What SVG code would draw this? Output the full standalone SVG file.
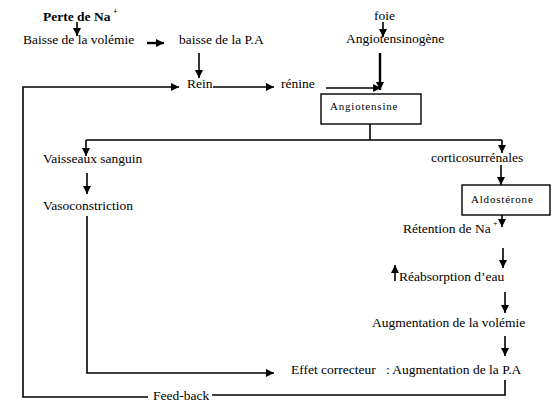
<svg xmlns="http://www.w3.org/2000/svg" width="559" height="413" viewBox="0 0 559 413">
<style>
text{font-family:"Liberation Serif","Times New Roman",serif;font-size:13.5px;fill:#000}
.b{font-weight:bold}
.s{font-size:11px;letter-spacing:0.8px}
.sup{font-size:8px}
.c{fill:none;stroke:#000;stroke-width:1.6}
.t{stroke-width:2.4}
.box{fill:#fff;stroke:#000;stroke-width:1.4}
</style>
<defs>
<marker id="a" markerUnits="userSpaceOnUse" markerWidth="10" markerHeight="10" refX="8" refY="4" orient="auto">
<path d="M0,0 L8,4 L0,8 Z" fill="#000"/>
</marker>
</defs>
<rect width="559" height="413" fill="#fff"/>
<g id="connectors">
<path class="c" d="M77,22 V36" marker-end="url(#a)"/>
<path class="c t" d="M147,43 H164" marker-end="url(#a)"/>
<path class="c" d="M199,53 V78" marker-end="url(#a)"/>
<path class="c" d="M148,397 H23 V87 H179" marker-end="url(#a)"/>
<path class="c" d="M505,380 V395 H212"/>
<path class="c" d="M213,87 H274" marker-end="url(#a)"/>
<path class="c" d="M383,22 V37" marker-end="url(#a)"/>
<path class="c t" d="M380,53 V90" marker-end="url(#a)"/>
<path class="c" d="M326,88 H381" marker-end="url(#a)"/>
<path class="c" d="M370,124 V140 M86,140 H502"/>
<path class="c" d="M86,140 V156" marker-end="url(#a)"/>
<path class="c" d="M502,140 V153" marker-end="url(#a)"/>
<path class="c" d="M501,165 V185" marker-end="url(#a)"/>
<path class="c" d="M502,215 V227" marker-end="url(#a)"/>
<path class="c" d="M503,248 V268" marker-end="url(#a)"/>
<path class="c" d="M395,281 V265" marker-end="url(#a)"/>
<path class="c" d="M505,292 V313" marker-end="url(#a)"/>
<path class="c" d="M505,336 V356" marker-end="url(#a)"/>
<path class="c" d="M87,173 V194" marker-end="url(#a)"/>
<path class="c" d="M87,216 V373 H274" marker-end="url(#a)"/>
</g>
<g id="perte"><text x="43" y="21" class="b">Perte de Na</text><text x="113" y="14" class="sup b">+</text></g>
<g id="baisse-volemie"><text x="23" y="44">Baisse de la volémie</text></g>
<g id="baisse-pa"><text x="179" y="44">baisse de la P.A</text></g>
<g id="foie"><text x="374" y="20">foie</text></g>
<g id="angiotensinogene"><text x="346" y="43">Angiotensinogène</text></g>
<g id="rein"><text x="187" y="88">Rein</text></g>
<g id="renine"><text x="281" y="88">rénine</text></g>
<g id="angiotensine"><rect class="box" x="321" y="94" width="100" height="30"/><text x="330" y="110" class="s">Angiotensine</text></g>
<g id="vaisseaux"><text x="43" y="163">Vaisseaux sanguin</text></g>
<g id="cortico"><text x="431" y="162">corticosurrénales</text></g>
<g id="aldosterone"><rect class="box" x="462" y="185" width="88" height="30"/><text x="471" y="203" class="s">Aldostérone</text></g>
<g id="vasoconstriction"><text x="43" y="210">Vasoconstriction</text></g>
<g id="retention"><text x="403" y="233">Rétention de Na</text><text x="493" y="226" class="sup">+</text></g>
<g id="reabsorption"><text x="399" y="281">Réabsorption d’eau</text></g>
<g id="aug-volemie"><text x="372" y="327">Augmentation de la volémie</text></g>
<g id="effet"><text x="291" y="374" xml:space="preserve">Effet correcteur   : Augmentation de la P.A</text></g>
<g id="feedback"><text x="153" y="400">Feed-back</text></g>
</svg>
